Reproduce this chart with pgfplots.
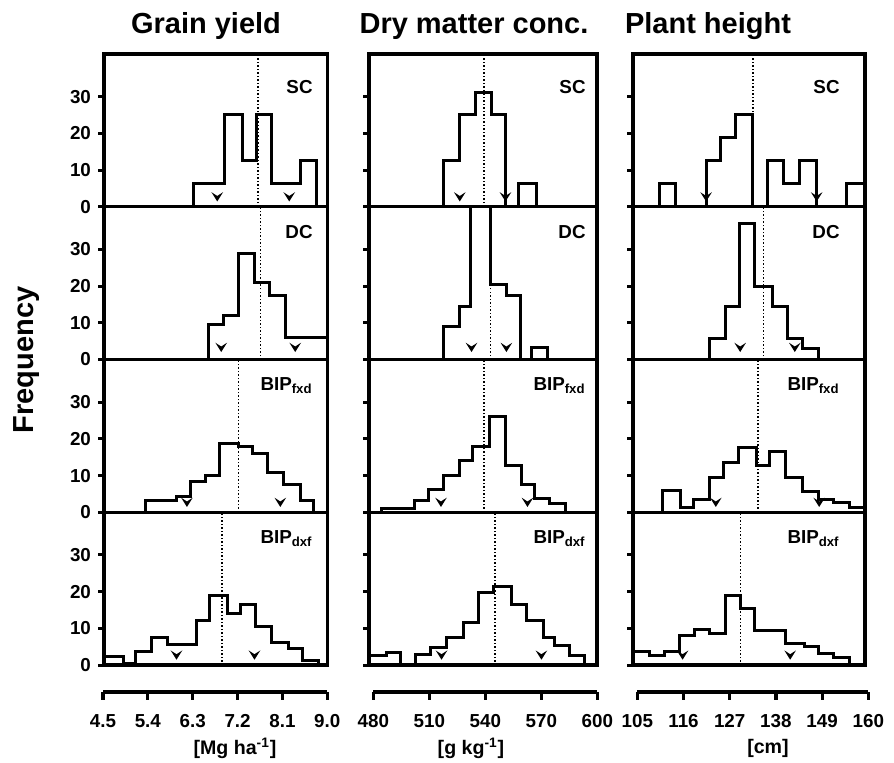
\documentclass[border=0pt]{standalone}
\usepackage{pgfplots}
\pgfplotsset{compat=1.18}
\usepackage{fontspec}
\setmainfont{Liberation Sans}

% chevron used for the arrow marks
\pgfdeclareplotmark{chev}{%
  \pgfpathmoveto{\pgfqpoint{-\pgfplotmarksize}{0.8\pgfplotmarksize}}%
  \pgfpathlineto{\pgfqpoint{0pt}{-0.8\pgfplotmarksize}}%
  \pgfpathlineto{\pgfqpoint{\pgfplotmarksize}{0.8\pgfplotmarksize}}%
  \pgfpathlineto{\pgfqpoint{0pt}{0.15\pgfplotmarksize}}%
  \pgfpathclose\pgfusepathqfill}

\newcommand\tickfont{\fontsize{9.4}{11}\selectfont\bfseries}
\newcommand\labfont{\fontsize{9.4}{11}\selectfont\bfseries}

\pgfplotsset{
  panel/.style={scale only axis, height=76.375pt, anchor=south west,
    ymin=0, ymax=41.6, xtick=\empty, ytick={0,10,20,30}, ytick pos=left,
    tick align=outside, major tick length=3pt,
    axis line style={line width=1.7pt},
    every tick/.style={black, line width=1.5pt},
    yticklabel style={font=\tickfont}},
  col1/.style={width=111.75pt, xmin=4.5, xmax=9.0, yticklabels={0,10,20,30}},
  col2/.style={width=114pt, xmin=477.7, xmax=600, yticklabels={}},
  col3/.style={width=116pt, xmin=104, xmax=159.2, yticklabels={}},
  hist/.style={const plot, black, line width=1.5pt, mark=none},
  mid/.style={black, densely dotted, line width=0.75pt, mark=none},
  arr/.style={black, only marks, mark=chev, mark size=2.9pt},
  bracket/.style={scale only axis, height=1pt, anchor=south west,
    ymin=0, ymax=1, axis x line*=bottom, axis y line=none,
    x axis line style={-, line width=1.7pt},
    xtick align=outside, major tick length=3.8pt,
    every tick/.style={black, line width=1.6pt},
    xticklabel style={font=\tickfont, yshift=-4pt}},
}

\begin{document}
\begin{tikzpicture}
\path[use as bounding box] (0,0) rectangle (447pt,381pt);

% titles
\node[anchor=base, font=\fontsize{14.5}{16}\selectfont\bfseries] at (103pt,364pt) {Grain yield};
\node[anchor=base, font=\fontsize{14.5}{16}\selectfont\bfseries] at (237pt,364pt) {Dry matter conc.};
\node[anchor=base, font=\fontsize{14.5}{16}\selectfont\bfseries] at (354pt,364pt) {Plant height};
\node[rotate=90, font=\fontsize{14.5}{16}\selectfont\bfseries] at (13.5pt,201pt) {Frequency};

% ---------- Grain yield ----------
\begin{axis}[panel, col1, at={(52pt,277.625pt)}]
\addplot[hist] coordinates {(6.31,0)(6.31,6.25)(6.92,25)(7.28,12.5)(7.57,25)(7.87,6.25)(8.45,12.5)(8.77,0)};
\addplot[mid] coordinates {(7.60,0)(7.60,41.6)};
\addplot[arr] coordinates {(6.78,2.7)(8.23,2.7)};
\node[anchor=north east, inner sep=0, font=\labfont, xshift=-7.25pt, yshift=-13pt] at (rel axis cs:1,1) {SC};
\end{axis}
\begin{axis}[panel, col1, at={(52pt,201.25pt)}]
\addplot[hist] coordinates {(6.61,0)(6.61,9.5)(6.90,12)(7.20,29)(7.53,21)(7.83,17.5)(8.15,6)(9.0,0)};
\addplot[mid] coordinates {(7.65,0)(7.65,41.6)};
\addplot[arr] coordinates {(6.86,3.3)(8.35,3.3)};
\node[anchor=north east, inner sep=0, font=\labfont, xshift=-7.25pt, yshift=-9pt] at (rel axis cs:1,1) {DC};
\end{axis}
\begin{axis}[panel, col1, at={(52pt,124.875pt)}]
\addplot[hist] coordinates {(5.34,0)(5.34,3.1)(5.96,4.2)(6.25,8.3)(6.55,10.1)(6.83,18.7)(7.20,17.8)(7.50,16)(7.80,10.8)(8.12,7.6)(8.45,3.3)(8.72,0)};
\addplot[mid] coordinates {(7.21,0)(7.21,41.6)};
\addplot[arr] coordinates {(6.17,2.7)(8.05,2.7)};
\node[anchor=north east, inner sep=0, font=\labfont, xshift=-7.25pt, yshift=-8.75pt] at (rel axis cs:1,1) {BIP\textsubscript{fxd}};
\end{axis}
\begin{axis}[panel, col1, at={(52pt,48.5pt)}]
\addplot[hist] coordinates {(4.5,2.3)(4.89,0.5)(5.14,3.8)(5.46,7.5)(5.78,5.6)(6.37,12)(6.63,18.9)(6.98,14)(7.25,16.5)(7.55,10.5)(7.87,6)(8.21,4.4)(8.50,1.3)(8.82,0)};
\addplot[mid] coordinates {(6.88,0)(6.88,41.6)};
\addplot[arr] coordinates {(5.96,2.7)(7.53,2.7)};
\node[anchor=north east, inner sep=0, font=\labfont, xshift=-7.25pt, yshift=-9pt] at (rel axis cs:1,1) {BIP\textsubscript{dxf}};
\end{axis}

% ---------- Dry matter conc. ----------
\begin{axis}[panel, col2, at={(184.5pt,277.625pt)}]
\addplot[hist] coordinates {(517.5,0)(517.5,12.5)(526.4,25)(534.8,31.25)(543.4,25)(550.9,0)(558.0,6.25)(567.5,0)};
\addplot[mid] coordinates {(539.5,0)(539.5,41.6)};
\addplot[arr] coordinates {(526.4,2.7)(550.9,2.7)};
\node[anchor=north east, inner sep=0, font=\labfont, xshift=-5.5pt, yshift=-13pt] at (rel axis cs:1,1) {SC};
\end{axis}
\begin{axis}[panel, col2, at={(184.5pt,201.25pt)}]
\addplot[hist] coordinates {(517.5,0)(517.5,8.9)(526.4,14.5)(532.3,50)(543.0,20.5)(551.4,17.5)(559.0,0)(564.8,3.3)(573.4,0)};
\addplot[mid] coordinates {(542.9,0)(542.9,41.6)};
\addplot[arr] coordinates {(532.7,3.3)(551.4,3.3)};
\node[anchor=north east, inner sep=0, font=\labfont, xshift=-5.5pt, yshift=-9pt] at (rel axis cs:1,1) {DC};
\end{axis}
\begin{axis}[panel, col2, at={(184.5pt,124.875pt)}]
\addplot[hist] coordinates {(484.5,0)(484.5,1)(502.0,3.1)(509.5,6.2)(517.9,10)(526.4,14)(533.0,17.9)(542.1,26.2)(551.1,12.8)(559.5,7.5)(566.6,3.8)(574.6,2.5)(583.0,0)};
\addplot[mid] coordinates {(539.5,0)(539.5,41.6)};
\addplot[arr] coordinates {(516.3,2.7)(562.7,2.7)};
\node[anchor=north east, inner sep=0, font=\labfont, xshift=-5.5pt, yshift=-8.75pt] at (rel axis cs:1,1) {BIP\textsubscript{fxd}};
\end{axis}
\begin{axis}[panel, col2, at={(184.5pt,48.5pt)}]
\addplot[hist] coordinates {(477.7,2.5)(487.2,3.4)(494.8,0)(502.9,2.9)(510.9,4.9)(519.3,7.5)(528.2,11.5)(536.2,19.7)(544.3,21.5)(554.1,16.4)(562.2,12.2)(571.1,7.5)(577.3,5.2)(585.4,2.5)(593.4,0)};
\addplot[mid] coordinates {(545.2,0)(545.2,41.6)};
\addplot[arr] coordinates {(516.6,2.7)(570.2,2.7)};
\node[anchor=north east, inner sep=0, font=\labfont, xshift=-5.5pt, yshift=-9pt] at (rel axis cs:1,1) {BIP\textsubscript{dxf}};
\end{axis}

% ---------- Plant height ----------
\begin{axis}[panel, col3, at={(316.5pt,277.625pt)}]
\addplot[hist] coordinates {(110.2,0)(110.2,6.25)(114.2,0)(121.4,12.5)(124.7,18.75)(128.3,25)(132.5,0)(136.0,12.5)(139.9,6.25)(143.6,12.5)(147.7,0)(154.7,6.25)(159.2,0)};
\addplot[mid] coordinates {(132.5,0)(132.5,41.6)};
\addplot[arr] coordinates {(121.4,2.7)(147.7,2.7)};
\node[anchor=north east, inner sep=0, font=\labfont, xshift=-12.5pt, yshift=-13pt] at (rel axis cs:1,1) {SC};
\end{axis}
\begin{axis}[panel, col3, at={(316.5pt,201.25pt)}]
\addplot[hist] coordinates {(122.1,0)(122.1,5.7)(125.9,14.3)(129.3,37.1)(133.0,20)(137.1,14.3)(140.7,5.7)(144.4,2.9)(148.1,0)};
\addplot[mid] coordinates {(135.0,0)(135.0,41.6)};
\addplot[arr] coordinates {(129.5,3.3)(142.5,3.3)};
\node[anchor=north east, inner sep=0, font=\labfont, xshift=-12.5pt, yshift=-9pt] at (rel axis cs:1,1) {DC};
\end{axis}
\begin{axis}[panel, col3, at={(316.5pt,124.875pt)}]
\addplot[hist] coordinates {(111.0,0)(111.0,6)(115.2,1.3)(118.3,3.4)(122.1,9.5)(125.6,13.5)(129.2,17.5)(133.4,12.6)(136.4,16.5)(140.4,9.5)(144.4,5.6)(148.1,3.5)(151.7,2.6)(155.6,1.3)(159.2,0)};
\addplot[mid] coordinates {(133.7,0)(133.7,41.6)};
\addplot[arr] coordinates {(123.7,2.7)(148.3,2.7)};
\node[anchor=north east, inner sep=0, font=\labfont, xshift=-12.5pt, yshift=-8.75pt] at (rel axis cs:1,1) {BIP\textsubscript{fxd}};
\end{axis}
\begin{axis}[panel, col3, at={(316.5pt,48.5pt)}]
\addplot[hist] coordinates {(104,3.6)(108.0,2.5)(111.4,3.8)(115.0,7.9)(118.6,9.7)(122.3,8.5)(125.9,18.8)(129.5,15.5)(133.0,9.3)(140.2,5.9)(144.7,5.0)(148.1,3.0)(151.8,2.1)(155.6,0)};
\addplot[mid] coordinates {(129.6,0)(129.6,41.6)};
\addplot[arr] coordinates {(115.8,2.7)(141.4,2.7)};
\node[anchor=north east, inner sep=0, font=\labfont, xshift=-12.5pt, yshift=-9pt] at (rel axis cs:1,1) {BIP\textsubscript{dxf}};
\end{axis}

% ---------- x axes below ----------
\begin{axis}[bracket, at={(51.5pt,35pt)}, width=112.15pt, xmin=4.5, xmax=9.0,
  xtick={4.5,5.4,6.3,7.2,8.1,9.0}, xticklabels={4.5,5.4,6.3,7.2,8.1,9.0}]
\end{axis}
\begin{axis}[bracket, at={(186.65pt,35pt)}, width=112pt, xmin=480, xmax=600,
  xtick={480,510,540,570,600}, xticklabels={480,510,540,570,600}]
\end{axis}
\begin{axis}[bracket, at={(318.65pt,35pt)}, width=115.5pt, xmin=105, xmax=160,
  xtick={105,116,127,138,149,160}, xticklabels={105,116,127,138,149,160}]
\end{axis}

% units
\node[font=\fontsize{9.8}{11}\selectfont\bfseries] at (117.5pt,7pt) {[Mg ha\textsuperscript{-1}]};
\node[font=\fontsize{9.8}{11}\selectfont\bfseries] at (235.5pt,7pt) {[g kg\textsuperscript{-1}]};
\node[font=\fontsize{9.8}{11}\selectfont\bfseries] at (384pt,7pt) {[cm]};
\end{tikzpicture}
\end{document}
